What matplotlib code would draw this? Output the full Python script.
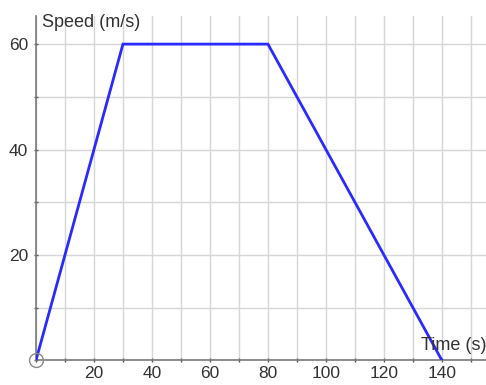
import matplotlib
matplotlib.use("Agg")
import matplotlib.pyplot as plt
from matplotlib.ticker import MultipleLocator, FixedLocator

# Speed-time profile: accelerate, cruise, decelerate
time_s = [0, 30, 80, 140]
speed_ms = [0, 60, 60, 0]

x_ticks = [20, 40, 60, 80, 100, 120, 140]
y_ticks = [20, 40, 60]

plt.rcParams["font.family"] = ["Liberation Sans", "DejaVu Sans"]

fig = plt.figure(figsize=(4.86, 3.85), dpi=100)
ax = fig.add_axes([0.074, 0.064, 0.926, 0.894])

ax.set_xlim(0, 155.2)
ax.set_ylim(0, 65.3)

ax.xaxis.set_major_locator(FixedLocator(x_ticks))
ax.yaxis.set_major_locator(FixedLocator(y_ticks))
ax.xaxis.set_minor_locator(MultipleLocator(10))
ax.yaxis.set_minor_locator(MultipleLocator(10))

ax.grid(which="both", color="#d6d6d6", linewidth=1.0)
ax.set_axisbelow(True)

for side in ("top", "right"):
    ax.spines[side].set_visible(False)
for side in ("left", "bottom"):
    ax.spines[side].set_color("#7a7a7a")
    ax.spines[side].set_linewidth(1.2)

ax.tick_params(which="both", direction="inout", length=3.5, width=1, color="#555555",
               labelsize=12.5, labelcolor="#333333")
ax.tick_params(axis="x", pad=2.5)
ax.tick_params(axis="y", pad=4)

ax.plot(time_s, speed_ms, color="#2a2aff", linewidth=2, solid_joinstyle="miter", zorder=3)

# hollow marker at the origin
ax.plot([0], [0], marker="o", markersize=10, markerfacecolor="none",
        markeredgecolor="#888888", markeredgewidth=1, clip_on=False, zorder=4)

ax.text(0.013, 0.982, "Speed (m/s)", transform=ax.transAxes, fontsize=13,
        color="#333333", ha="left", va="center")
ax.text(1.0, 0.043, "Time (s)", transform=ax.transAxes, fontsize=13,
        color="#333333", ha="right", va="center")

fig.savefig("out.png", dpi=100)
